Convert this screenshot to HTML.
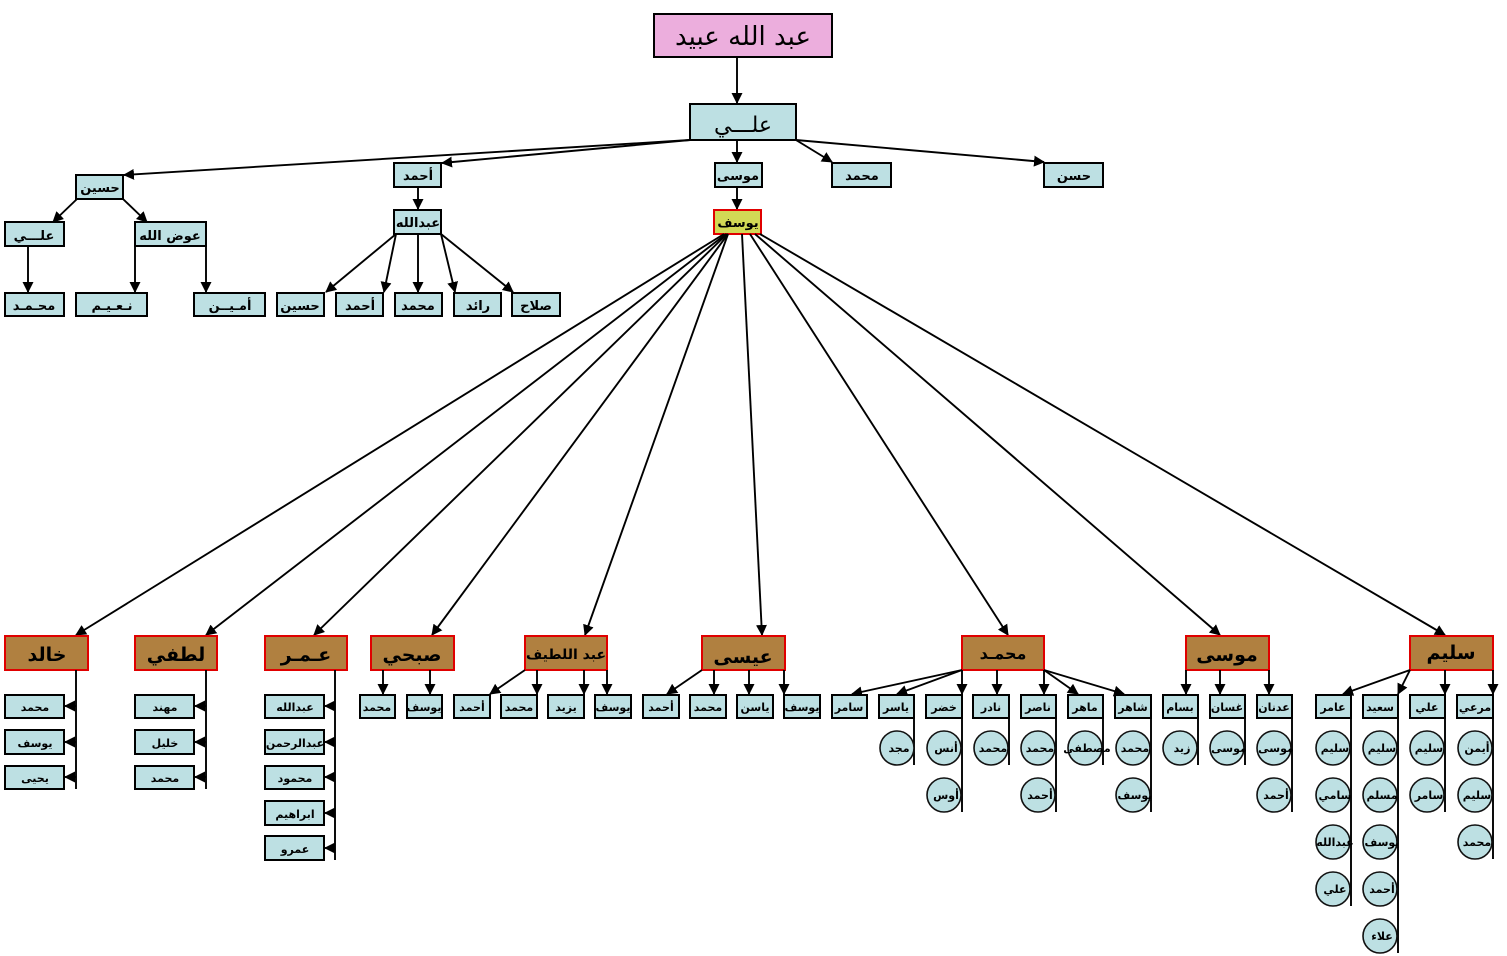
<!DOCTYPE html>
<html><head><meta charset="utf-8"><style>
html,body{margin:0;padding:0;background:#fff;}
svg{display:block;}
text{font-family:"DejaVu Sans","Liberation Sans",sans-serif;font-weight:bold;text-anchor:middle;fill:#000;}
.b{fill:#bde0e3;stroke:#000;stroke-width:2;}
.r{fill:#b08040;stroke:#e00000;stroke-width:2;}
.c{fill:#bde0e3;stroke:#111;stroke-width:1.6;}
.l{stroke:#000;stroke-width:1.9;fill:none;}
.a{stroke:#000;stroke-width:1.9;fill:none;marker-end:url(#m);}
.t{font-size:13px;}
.s{font-size:11px;}
.big{font-size:19px;}
</style></head><body>
<svg width="1507" height="956" viewBox="0 0 1507 956" xmlns="http://www.w3.org/2000/svg">
<defs><marker id="m" markerWidth="11" markerHeight="11" refX="10" refY="5.5" orient="auto" markerUnits="userSpaceOnUse"><path d="M0,0 L11,5.5 L0,11 z" fill="#000"/></marker></defs>

<rect x="654" y="14" width="178" height="43" fill="#ecaedd" stroke="#000" stroke-width="2"/>
<text x="743" y="45" font-size="26" style="font-weight:normal">عبد الله عبيد</text>
<line class="a" x1="737" y1="57" x2="737" y2="103"/>
<rect class="b" x="690" y="104" width="106" height="36"/>
<text x="743" y="132" font-size="22" style="font-weight:normal">علـــي</text>

<line class="a" x1="690" y1="140" x2="124" y2="175"/>
<line class="a" x1="690" y1="140" x2="442" y2="163"/>
<line class="a" x1="737" y1="140" x2="737" y2="162"/>
<line class="a" x1="796" y1="140" x2="832" y2="162"/>
<line class="a" x1="796" y1="140" x2="1044" y2="162"/>

<rect class="b" x="76" y="175" width="47" height="24"/><text class="t" x="100" y="192">حسين</text>
<rect class="b" x="394" y="163" width="47" height="24"/><text class="t" x="418" y="180">أحمد</text>
<rect class="b" x="715" y="163" width="47" height="24"/><text class="t" x="738" y="180">موسى</text>
<rect class="b" x="832" y="163" width="59" height="24"/><text class="t" x="862" y="180">محمد</text>
<rect class="b" x="1044" y="163" width="59" height="24"/><text class="t" x="1074" y="180">حسن</text>

<line class="a" x1="77" y1="199" x2="53" y2="222"/>
<line class="a" x1="123" y1="199" x2="147" y2="222"/>
<rect class="b" x="5" y="222" width="59" height="24"/><text class="t" x="34" y="240">علـــي</text>
<rect class="b" x="135" y="222" width="71" height="24"/><text class="t" x="170" y="240">عوض الله</text>
<line class="a" x1="28" y1="246" x2="28" y2="292"/>
<line class="a" x1="135" y1="246" x2="135" y2="292"/>
<line class="a" x1="206" y1="246" x2="206" y2="292"/>
<rect class="b" x="5" y="293" width="59" height="23"/><text class="t" x="34" y="310">محـمـد</text>
<rect class="b" x="76" y="293" width="71" height="23"/><text class="t" x="112" y="310">نـعـيـم</text>
<rect class="b" x="194" y="293" width="71" height="23"/><text class="t" x="230" y="310">أمـيــن</text>

<line class="a" x1="418" y1="187" x2="418" y2="209"/>
<rect class="b" x="394" y="210" width="47" height="24"/><text class="t" x="418" y="227">عبدالله</text>
<line class="a" x1="396" y1="234" x2="326" y2="292"/>
<line class="a" x1="396" y1="234" x2="384" y2="292"/>
<line class="a" x1="418" y1="234" x2="418" y2="292"/>
<line class="a" x1="441" y1="234" x2="455" y2="292"/>
<line class="a" x1="441" y1="234" x2="513" y2="292"/>
<rect class="b" x="277" y="293" width="47" height="23"/><text class="t" x="300" y="310">حسين</text>
<rect class="b" x="336" y="293" width="47" height="23"/><text class="t" x="360" y="310">أحمد</text>
<rect class="b" x="395" y="293" width="47" height="23"/><text class="t" x="418" y="310">محمد</text>
<rect class="b" x="454" y="293" width="47" height="23"/><text class="t" x="478" y="310">رائد</text>
<rect class="b" x="512" y="293" width="48" height="23"/><text class="t" x="536" y="310">صلاح</text>

<line class="a" x1="737" y1="187" x2="737" y2="209"/>
<rect x="714" y="210" width="47" height="24" fill="#d2d955" stroke="#e00000" stroke-width="2"/><text class="t" x="738" y="227">يوسف</text>
<line class="a" x1="724" y1="234" x2="76" y2="635"/>
<line class="a" x1="726" y1="234" x2="206" y2="635"/>
<line class="a" x1="727" y1="234" x2="314" y2="635"/>
<line class="a" x1="728" y1="234" x2="432" y2="635"/>
<line class="a" x1="728" y1="234" x2="585" y2="635"/>
<line class="a" x1="742" y1="234" x2="762" y2="635"/>
<line class="a" x1="750" y1="234" x2="1008" y2="635"/>
<line class="a" x1="755" y1="234" x2="1220" y2="635"/>
<line class="a" x1="760" y1="234" x2="1445" y2="635"/>

<rect class="r" x="5" y="636" width="83" height="34"/><text class="big" x="47" y="661">خالد</text>
<rect class="r" x="135" y="636" width="82" height="34"/><text class="big" x="176" y="661">لطفي</text>
<rect class="r" x="265" y="636" width="82" height="34"/><text class="big" x="306" y="661">عـمـر</text>
<rect class="r" x="371" y="636" width="83" height="34"/><text class="big" x="412" y="661">صبحي</text>
<rect class="r" x="525" y="636" width="82" height="34"/><text x="566" y="659" font-size="14">عبد اللطيف</text>
<rect class="r" x="702" y="636" width="83" height="34"/><text class="big" x="743" y="663">عيسى</text>
<rect class="r" x="962" y="636" width="82" height="34"/><text x="1003" y="659" font-size="16">محمـد</text>
<rect class="r" x="1186" y="636" width="83" height="34"/><text class="big" x="1227" y="661">موسى</text>
<rect class="r" x="1410" y="636" width="83" height="34"/><text class="big" x="1451" y="659">سليم</text>

<line class="l" x1="76" y1="670" x2="76" y2="789"/>
<line class="a" x1="76" y1="706" x2="65" y2="706"/>
<line class="a" x1="76" y1="742" x2="65" y2="742"/>
<line class="a" x1="76" y1="777" x2="65" y2="777"/>
<rect class="b" x="5" y="695" width="59" height="23"/><text class="s" x="35" y="711">محمد</text>
<rect class="b" x="5" y="730" width="59" height="24"/><text class="s" x="35" y="747">يوسف</text>
<rect class="b" x="5" y="766" width="59" height="23"/><text class="s" x="35" y="782">يحيى</text>
<line class="l" x1="206" y1="670" x2="206" y2="789"/>
<line class="a" x1="206" y1="706" x2="195" y2="706"/>
<line class="a" x1="206" y1="742" x2="195" y2="742"/>
<line class="a" x1="206" y1="777" x2="195" y2="777"/>
<rect class="b" x="135" y="695" width="59" height="23"/><text class="s" x="165" y="711">مهند</text>
<rect class="b" x="135" y="730" width="59" height="24"/><text class="s" x="165" y="747">خليل</text>
<rect class="b" x="135" y="766" width="59" height="23"/><text class="s" x="165" y="782">محمد</text>
<line class="l" x1="335" y1="670" x2="335" y2="860"/>
<line class="a" x1="335" y1="706" x2="325" y2="706"/>
<line class="a" x1="335" y1="742" x2="325" y2="742"/>
<line class="a" x1="335" y1="777" x2="325" y2="777"/>
<line class="a" x1="335" y1="813" x2="325" y2="813"/>
<line class="a" x1="335" y1="848" x2="325" y2="848"/>
<rect class="b" x="265" y="695" width="59" height="23"/><text class="s" x="295" y="711">عبدالله</text>
<rect class="b" x="265" y="730" width="59" height="24"/><text class="s" x="295" y="747">عبدالرحمن</text>
<rect class="b" x="265" y="766" width="59" height="23"/><text class="s" x="295" y="782">محمود</text>
<rect class="b" x="265" y="801" width="59" height="24"/><text class="s" x="295" y="818">ابراهيم</text>
<rect class="b" x="265" y="836" width="59" height="24"/><text class="s" x="295" y="853">عمرو</text>
<line class="a" x1="383" y1="670" x2="383" y2="694"/>
<line class="a" x1="430" y1="670" x2="430" y2="694"/>
<rect class="b" x="360" y="695" width="35" height="23"/><text class="s" x="377" y="711">محمد</text>
<rect class="b" x="407" y="695" width="35" height="23"/><text class="s" x="424" y="711">يوسف</text>
<line class="a" x1="525" y1="670" x2="490" y2="694"/>
<line class="a" x1="537" y1="670" x2="537" y2="694"/>
<line class="a" x1="584" y1="670" x2="584" y2="694"/>
<line class="a" x1="607" y1="670" x2="607" y2="694"/>
<rect class="b" x="454" y="695" width="36" height="23"/><text class="s" x="472" y="711">أحمد</text>
<rect class="b" x="501" y="695" width="36" height="23"/><text class="s" x="519" y="711">محمد</text>
<rect class="b" x="548" y="695" width="36" height="23"/><text class="s" x="566" y="711">يزيد</text>
<rect class="b" x="595" y="695" width="36" height="23"/><text class="s" x="613" y="711">يوسف</text>
<line class="a" x1="702" y1="670" x2="667" y2="694"/>
<line class="a" x1="714" y1="670" x2="714" y2="694"/>
<line class="a" x1="749" y1="670" x2="749" y2="694"/>
<line class="a" x1="784" y1="670" x2="784" y2="694"/>
<rect class="b" x="643" y="695" width="36" height="23"/><text class="s" x="661" y="711">أحمد</text>
<rect class="b" x="690" y="695" width="36" height="23"/><text class="s" x="708" y="711">محمد</text>
<rect class="b" x="737" y="695" width="36" height="23"/><text class="s" x="755" y="711">ياسن</text>
<rect class="b" x="784" y="695" width="36" height="23"/><text class="s" x="802" y="711">يوسف</text>
<line class="a" x1="962" y1="670" x2="852" y2="694"/>
<line class="a" x1="962" y1="670" x2="897" y2="694"/>
<line class="a" x1="962" y1="670" x2="962" y2="694"/>
<line class="a" x1="997" y1="670" x2="997" y2="694"/>
<line class="a" x1="1044" y1="670" x2="1044" y2="694"/>
<line class="a" x1="1044" y1="670" x2="1078" y2="694"/>
<line class="a" x1="1044" y1="670" x2="1124" y2="694"/>
<line class="l" x1="914" y1="718" x2="914" y2="765"/>
<line class="l" x1="962" y1="718" x2="962" y2="812"/>
<line class="l" x1="1009" y1="718" x2="1009" y2="765"/>
<line class="l" x1="1056" y1="718" x2="1056" y2="812"/>
<line class="l" x1="1103" y1="718" x2="1103" y2="765"/>
<line class="l" x1="1151" y1="718" x2="1151" y2="812"/>
<rect class="b" x="832" y="695" width="35" height="23"/><text class="s" x="849" y="711">سامر</text>
<rect class="b" x="879" y="695" width="35" height="23"/><text class="s" x="896" y="711">ياسر</text>
<rect class="b" x="926" y="695" width="36" height="23"/><text class="s" x="944" y="711">خضر</text>
<rect class="b" x="973" y="695" width="36" height="23"/><text class="s" x="991" y="711">نادر</text>
<rect class="b" x="1021" y="695" width="35" height="23"/><text class="s" x="1038" y="711">ناصر</text>
<rect class="b" x="1068" y="695" width="35" height="23"/><text class="s" x="1085" y="711">ماهر</text>
<rect class="b" x="1115" y="695" width="36" height="23"/><text class="s" x="1133" y="711">شاهر</text>
<circle class="c" cx="897" cy="748" r="17"/><text class="s" x="899" y="752">مجد</text>
<circle class="c" cx="944" cy="748" r="17"/><text class="s" x="946" y="752">أنس</text>
<circle class="c" cx="944" cy="795" r="17"/><text class="s" x="946" y="799">أوس</text>
<circle class="c" cx="991" cy="748" r="17"/><text class="s" x="993" y="752">محمد</text>
<circle class="c" cx="1038" cy="748" r="17"/><text class="s" x="1040" y="752">محمد</text>
<circle class="c" cx="1038" cy="795" r="17"/><text class="s" x="1040" y="799">أحمد</text>
<circle class="c" cx="1085" cy="748" r="17"/><text class="s" x="1087" y="752">مصطفى</text>
<circle class="c" cx="1133" cy="748" r="17"/><text class="s" x="1135" y="752">محمد</text>
<circle class="c" cx="1133" cy="795" r="17"/><text class="s" x="1135" y="799">يوسف</text>
<line class="a" x1="1186" y1="670" x2="1186" y2="694"/>
<line class="a" x1="1220" y1="670" x2="1220" y2="694"/>
<line class="a" x1="1269" y1="670" x2="1269" y2="694"/>
<line class="l" x1="1198" y1="718" x2="1198" y2="765"/>
<line class="l" x1="1245" y1="718" x2="1245" y2="765"/>
<line class="l" x1="1292" y1="718" x2="1292" y2="812"/>
<rect class="b" x="1163" y="695" width="35" height="23"/><text class="s" x="1180" y="711">بسام</text>
<rect class="b" x="1210" y="695" width="35" height="23"/><text class="s" x="1227" y="711">غسان</text>
<rect class="b" x="1257" y="695" width="35" height="23"/><text class="s" x="1274" y="711">عدنان</text>
<circle class="c" cx="1180" cy="748" r="17"/><text class="s" x="1182" y="752">زيد</text>
<circle class="c" cx="1227" cy="748" r="17"/><text class="s" x="1229" y="752">موسى</text>
<circle class="c" cx="1274" cy="748" r="17"/><text class="s" x="1276" y="752">موسى</text>
<circle class="c" cx="1274" cy="795" r="17"/><text class="s" x="1276" y="799">أحمد</text>
<line class="a" x1="1410" y1="670" x2="1343" y2="694"/>
<line class="a" x1="1410" y1="670" x2="1398" y2="694"/>
<line class="a" x1="1445" y1="670" x2="1445" y2="694"/>
<line class="a" x1="1493" y1="670" x2="1493" y2="694"/>
<line class="l" x1="1351" y1="718" x2="1351" y2="906"/>
<line class="l" x1="1398" y1="718" x2="1398" y2="953"/>
<line class="l" x1="1445" y1="718" x2="1445" y2="812"/>
<line class="l" x1="1493" y1="718" x2="1493" y2="859"/>
<rect class="b" x="1316" y="695" width="35" height="23"/><text class="s" x="1333" y="711">عامر</text>
<rect class="b" x="1363" y="695" width="35" height="23"/><text class="s" x="1380" y="711">سعيد</text>
<rect class="b" x="1410" y="695" width="35" height="23"/><text class="s" x="1427" y="711">علي</text>
<rect class="b" x="1457" y="695" width="36" height="23"/><text class="s" x="1475" y="711">مرعي</text>
<circle class="c" cx="1333" cy="748" r="17"/><text class="s" x="1335" y="752">سليم</text>
<circle class="c" cx="1333" cy="795" r="17"/><text class="s" x="1335" y="799">سامي</text>
<circle class="c" cx="1333" cy="842" r="17"/><text class="s" x="1335" y="846">عبدالله</text>
<circle class="c" cx="1333" cy="889" r="17"/><text class="s" x="1335" y="893">علي</text>
<circle class="c" cx="1380" cy="748" r="17"/><text class="s" x="1382" y="752">سليم</text>
<circle class="c" cx="1380" cy="795" r="17"/><text class="s" x="1382" y="799">مسلم</text>
<circle class="c" cx="1380" cy="842" r="17"/><text class="s" x="1382" y="846">يوسف</text>
<circle class="c" cx="1380" cy="889" r="17"/><text class="s" x="1382" y="893">أحمد</text>
<circle class="c" cx="1380" cy="936" r="17"/><text class="s" x="1382" y="940">علاء</text>
<circle class="c" cx="1427" cy="748" r="17"/><text class="s" x="1429" y="752">سليم</text>
<circle class="c" cx="1427" cy="795" r="17"/><text class="s" x="1429" y="799">سامر</text>
<circle class="c" cx="1475" cy="748" r="17"/><text class="s" x="1477" y="752">أيمن</text>
<circle class="c" cx="1475" cy="795" r="17"/><text class="s" x="1477" y="799">سليم</text>
<circle class="c" cx="1475" cy="842" r="17"/><text class="s" x="1477" y="846">محمد</text>
</svg>
</body></html>
